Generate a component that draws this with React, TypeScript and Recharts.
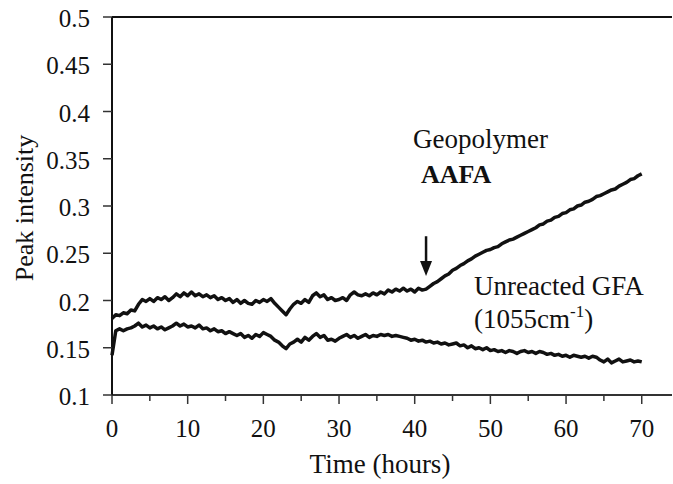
import { CartesianGrid, Line, LineChart, ReferenceLine, XAxis, YAxis } from "recharts";

const HOURS = [
  0, 0.5, 1, 1.5, 2, 2.5, 3, 3.5, 4, 4.5, 5, 5.5, 6, 6.5, 7, 7.5, 8, 8.5, 9, 9.5,
  10, 10.5, 11, 11.5, 12, 12.5, 13, 13.5, 14, 14.5, 15, 15.5, 16, 16.5, 17, 17.5, 18, 18.5, 19, 19.5,
  20, 20.5, 21, 21.5, 22, 22.5, 23, 23.5, 24, 24.5, 25, 25.5, 26, 26.5, 27, 27.5, 28, 28.5, 29, 29.5,
  30, 30.5, 31, 31.5, 32, 32.5, 33, 33.5, 34, 34.5, 35, 35.5, 36, 36.5, 37, 37.5, 38, 38.5, 39, 39.5,
  40, 40.5, 41, 41.5, 42, 42.5, 43, 43.5, 44, 44.5, 45, 45.5, 46, 46.5, 47, 47.5, 48, 48.5, 49, 49.5,
  50, 50.5, 51, 51.5, 52, 52.5, 53, 53.5, 54, 54.5, 55, 55.5, 56, 56.5, 57, 57.5, 58, 58.5, 59, 59.5,
  60, 60.5, 61, 61.5, 62, 62.5, 63, 63.5, 64, 64.5, 65, 65.5, 66, 66.5, 67, 67.5, 68, 68.5, 69, 69.5,
  70,
];

// Geopolymer AAFA
const GEOPOLYMER = [
  0.181, 0.185, 0.184, 0.187, 0.186, 0.19, 0.189, 0.196, 0.201, 0.199, 0.202, 0.199, 0.203, 0.201, 0.204, 0.2, 0.203, 0.207, 0.204, 0.208,
  0.205, 0.209, 0.205, 0.207, 0.204, 0.206, 0.203, 0.205, 0.201, 0.203, 0.2, 0.202, 0.198, 0.201, 0.197, 0.2, 0.197, 0.196, 0.2, 0.198,
  0.201, 0.199, 0.202, 0.197, 0.193, 0.189, 0.185, 0.191, 0.196, 0.199, 0.197, 0.201, 0.198, 0.205, 0.208, 0.204, 0.206, 0.201, 0.203, 0.2,
  0.201, 0.203, 0.2, 0.206, 0.209, 0.206, 0.205, 0.207, 0.205, 0.208, 0.206, 0.209, 0.207, 0.211, 0.209, 0.212, 0.21, 0.213, 0.21, 0.212,
  0.209, 0.213, 0.211, 0.212, 0.215, 0.218, 0.22, 0.223, 0.226, 0.228, 0.232, 0.234, 0.237, 0.239, 0.242, 0.244, 0.247, 0.249, 0.251, 0.253,
  0.254, 0.256, 0.257, 0.26, 0.262, 0.264, 0.265, 0.267, 0.269, 0.271, 0.273, 0.275, 0.277, 0.28, 0.281, 0.284, 0.285, 0.288, 0.289, 0.292,
  0.293, 0.296, 0.297, 0.3, 0.301, 0.304, 0.305, 0.307, 0.31, 0.311, 0.313, 0.315, 0.317, 0.318, 0.321, 0.323, 0.325, 0.328, 0.329, 0.332,
  0.334,
];

// Unreacted GFA (1055 cm-1)
const UNREACTED_GFA = [
  0.142, 0.168, 0.17, 0.168, 0.17, 0.171, 0.173, 0.176, 0.172, 0.174, 0.171, 0.173, 0.17, 0.172, 0.169, 0.171, 0.173, 0.176, 0.173, 0.175,
  0.172, 0.173, 0.171, 0.174, 0.17, 0.171, 0.168, 0.17, 0.167, 0.168, 0.165, 0.167, 0.165, 0.163, 0.165, 0.161, 0.163, 0.16, 0.164, 0.162,
  0.166, 0.164, 0.162, 0.158, 0.156, 0.152, 0.149, 0.154, 0.156, 0.159, 0.156, 0.161, 0.158, 0.162, 0.165, 0.161, 0.163, 0.158, 0.159, 0.157,
  0.16, 0.162, 0.164, 0.161, 0.163, 0.16, 0.162, 0.164, 0.161, 0.163, 0.162, 0.164, 0.163, 0.164, 0.162, 0.163, 0.162, 0.161, 0.16, 0.158,
  0.159, 0.157, 0.158, 0.156, 0.157, 0.155, 0.156, 0.154, 0.155, 0.153, 0.154, 0.155, 0.152, 0.153, 0.15, 0.152, 0.149, 0.15, 0.148, 0.15,
  0.147, 0.148, 0.146, 0.147, 0.145, 0.147, 0.146, 0.144, 0.146, 0.147, 0.145, 0.146, 0.144, 0.146, 0.145, 0.143, 0.144, 0.142, 0.143, 0.141,
  0.142, 0.14, 0.142, 0.141, 0.14, 0.141, 0.139, 0.141, 0.14, 0.137, 0.135, 0.138, 0.134, 0.136, 0.138, 0.135, 0.136, 0.137, 0.135, 0.136,
  0.135,
];

const X_TICKS = [0, 5, 10, 15, 20, 25, 30, 35, 40, 45, 50, 55, 60, 65, 70];
const Y_TICKS = [0.1, 0.15, 0.2, 0.25, 0.3, 0.35, 0.4, 0.45, 0.5];
const Y_LABELS = ["0.1", "0.15", "0.2", "0.25", "0.3", "0.35", "0.4", "0.45", "0.5"];

const SERIF = '"Liberation Serif", "Times New Roman", "DejaVu Serif", serif';
const INK = "#111";
const serifStyle = { fontFamily: SERIF };

const data = HOURS.map((hour, i) => ({
  hour,
  geo: GEOPOLYMER[i],
  gfa: UNREACTED_GFA[i],
}));

const XTick = (props: any) => {
  const { x, y, payload } = props;
  const major = payload.value % 10 === 0;
  return (
    <g>
      <line x1={x} x2={x} y1={y} y2={y + (major ? 9 : 6)} stroke="#333" strokeWidth={1.5} />
      {major && (
        <text x={x} y={y + 42} textAnchor="middle" style={serifStyle} fontSize={25} fill={INK}>
          {payload.value}
        </text>
      )}
    </g>
  );
};

const YTick = (props: any) => {
  const { x, y, payload, index } = props;
  return (
    <g>
      <line x1={x - 9} x2={x} y1={y} y2={y} stroke="#333" strokeWidth={1.5} />
      <text x={x - 22} y={y + 10} textAnchor="end" style={serifStyle} fontSize={25} fill={INK}>
        {Y_LABELS[index] ?? payload.value}
      </text>
    </g>
  );
};

const Arrow = (props: any) => {
  const { x1, y1, x2, y2 } = props;
  return (
    <g>
      <line x1={x1} y1={y1} x2={x2} y2={y2 - 10} stroke={INK} strokeWidth={2.5} />
      <polygon points={`${x2 - 6},${y2 - 15} ${x2 + 6},${y2 - 15} ${x2},${y2}`} fill={INK} />
    </g>
  );
};

export default function App() {
  return (
    <div
      style={{
        position: "absolute",
        left: 0,
        top: 0,
        width: 673,
        height: 484,
        background: "#fff",
        fontFamily: SERIF,
      }}
    >
      <LineChart width={673} height={484} data={data} margin={{ top: 17, right: 1, left: 0, bottom: 0 }}>
        <CartesianGrid stroke="none" />
        <XAxis
          dataKey="hour"
          type="number"
          domain={[0, 74]}
          ticks={X_TICKS}
          interval={0}
          height={89}
          tickSize={0}
          tickMargin={0}
          tickLine={false}
          axisLine={{ stroke: "#333", strokeWidth: 2 }}
          tick={<XTick />}
        />
        <YAxis
          type="number"
          domain={[0.1, 0.5]}
          ticks={Y_TICKS}
          interval={0}
          width={112}
          tickSize={0}
          tickMargin={0}
          tickLine={false}
          axisLine={{ stroke: INK, strokeWidth: 2 }}
          tick={<YTick />}
        />
        <ReferenceLine y={0.5} stroke={INK} strokeWidth={2} />
        <Line
          dataKey="geo"
          stroke={INK}
          strokeWidth={3.5}
          dot={false}
          isAnimationActive={false}
          strokeLinejoin="round"
        />
        <Line
          dataKey="gfa"
          stroke={INK}
          strokeWidth={3.5}
          dot={false}
          isAnimationActive={false}
          strokeLinejoin="round"
        />
        <ReferenceLine
          segment={[
            { x: 41.5, y: 0.268 },
            { x: 41.5, y: 0.226 },
          ]}
          shape={<Arrow />}
        />
      </LineChart>
      <svg
        width={673}
        height={484}
        style={{ position: "absolute", left: 0, top: 0, pointerEvents: "none", fontFamily: SERIF }}
        fill={INK}
      >
        <text x={33} y={208} fontSize={26} textAnchor="middle" transform="rotate(-90 33 208)" style={serifStyle}>
          Peak intensity
        </text>
        <text x={380} y={473} fontSize={27} textAnchor="middle" style={serifStyle}>
          Time (hours)
        </text>
        <text x={413} y={148} fontSize={27} style={serifStyle}>
          Geopolymer
        </text>
        <text x={421} y={183} fontSize={26} fontWeight="bold" style={serifStyle}>
          AAFA
        </text>
        <text x={474} y={295} fontSize={27} style={serifStyle}>
          Unreacted GFA
        </text>
        <text x={474} y={328} fontSize={27} style={serifStyle}>
          (1055cm
          <tspan fontSize={17} dy={-11}>
            -1
          </tspan>
          <tspan dy={11}>)</tspan>
        </text>
      </svg>
    </div>
  );
}
